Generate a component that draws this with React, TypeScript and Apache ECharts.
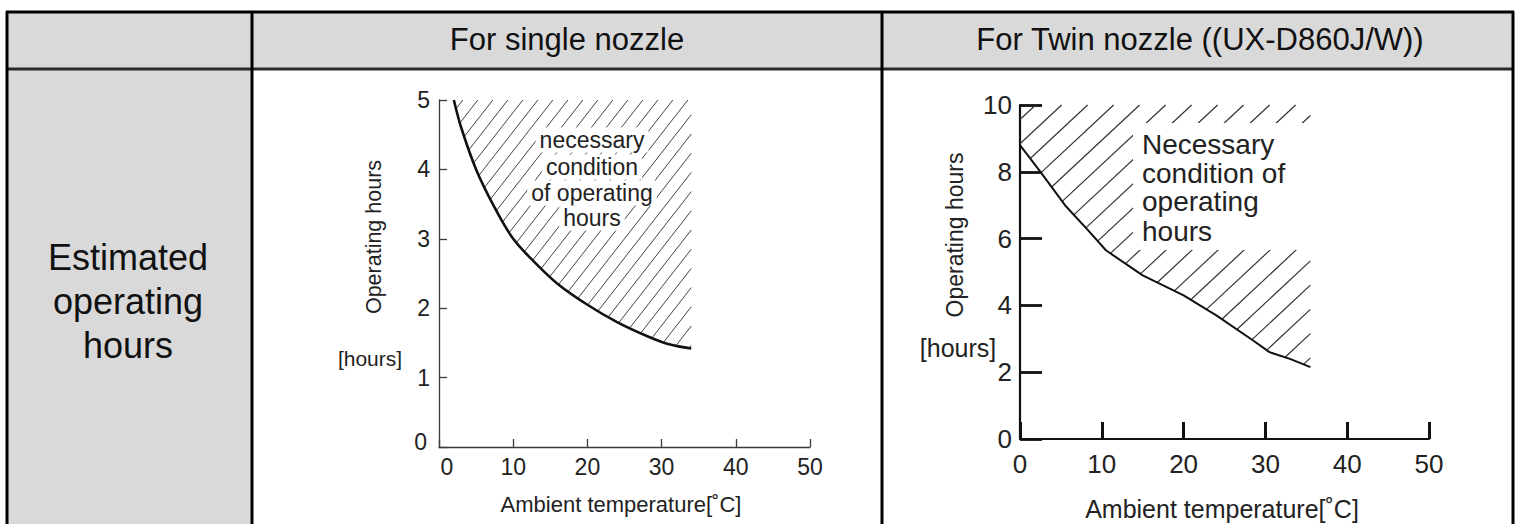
import React, { useEffect, useRef } from "react";
import * as echarts from "echarts";

// ---------- data ----------
const headerLabels = ["For single nozzle", "For Twin nozzle ((UX-D860J/W))"];
const rowLabel = "Estimated\noperating\nhours";
const xAxisName = "Ambient temperature[˚C]";
const yAxisName = "Operating hours";
const yUnit = "[hours]";

const xTickInterval = 10;
const xMax = 50;
const singleYMax = 5;
const singleYInterval = 1;
const twinYMax = 10;
const twinYInterval = 2;

const singleTemps = [2, 3, 5, 7.5, 10, 13, 16, 20, 24, 28, 31, 34];
const singleHours = [5.0, 4.6, 4.0, 3.45, 3.0, 2.65, 2.35, 2.05, 1.8, 1.6, 1.48, 1.42];

const twinTemps = [0, 2.5, 5.5, 8.5, 10.5, 15, 20, 24, 28.5, 30.5, 33, 35.5];
const twinHours = [8.8, 8.0, 7.0, 6.2, 5.65, 4.9, 4.3, 3.7, 2.95, 2.6, 2.4, 2.15];

const singleNote = ["necessary", "condition", "of operating", "hours"];
const twinNote = ["Necessary", "condition of", "operating", "hours"];

// ---------- styling ----------
const FONT = '"Liberation Sans", Arial, Helvetica, sans-serif';
const GREY = "#d9d9d9";
const INK = "#222";

function pairs(xs: number[], ys: number[]) {
  return xs.map((x, i) => [x, ys[i]]);
}

function makeHatch(
  temps: number[],
  hours: number[],
  top: number,
  spacing: number,
  angleDeg: number,
  color: string,
  width: number
) {
  return (_params: any, api: any) => {
    const pts: number[][] = [];
    if (hours[0] < top) pts.push(api.coord([temps[0], top]));
    temps.forEach((t, i) => pts.push(api.coord([t, hours[i]])));
    pts.push(api.coord([temps[temps.length - 1], top]));
    const a = (angleDeg * Math.PI) / 180;
    const nx = Math.sin(a);
    const ny = Math.cos(a);
    const cs = pts.map((p) => p[0] * nx + p[1] * ny);
    const cmin = Math.min(...cs);
    const cmax = Math.max(...cs);
    const step = spacing * nx;
    const children: any[] = [];
    for (let c = cmin + step * 0.6; c < cmax; c += step) {
      const hits: number[][] = [];
      for (let i = 0; i < pts.length; i++) {
        const p1 = pts[i];
        const p2 = pts[(i + 1) % pts.length];
        const f1 = p1[0] * nx + p1[1] * ny - c;
        const f2 = p2[0] * nx + p2[1] * ny - c;
        if (f1 < 0 !== f2 < 0) {
          const s = f1 / (f1 - f2);
          hits.push([p1[0] + s * (p2[0] - p1[0]), p1[1] + s * (p2[1] - p1[1])]);
        }
      }
      hits.sort((u, v) => u[0] - v[0]);
      for (let k = 0; k + 1 < hits.length; k += 2) {
        children.push({
          type: "line",
          shape: { x1: hits[k][0], y1: hits[k][1], x2: hits[k + 1][0], y2: hits[k + 1][1] },
          style: { stroke: color, lineWidth: width },
        });
      }
    }
    return { type: "group", children };
  };
}

function axisCommon(color: string, lineW: number, tickLen: number, tickW: number, fontSize: number, margin: number) {
  return {
    type: "value",
    axisLine: { show: true, onZero: false, lineStyle: { color, width: lineW } },
    axisTick: { show: true, inside: true, length: tickLen, lineStyle: { color, width: tickW } },
    axisLabel: { color: INK, fontSize, margin, fontFamily: FONT },
    splitLine: { show: false },
  };
}

function textEl(text: string, x: number, y: number, fontSize: number, extra: any = {}, styleExtra: any = {}) {
  return {
    type: "text",
    x,
    y,
    z: 20,
    ...extra,
    style: {
      text,
      fontSize,
      fontFamily: FONT,
      fill: INK,
      align: "center",
      verticalAlign: "middle",
      ...styleExtra,
    },
  };
}

function lineEl(x1: number, y1: number, x2: number, y2: number, w: number, color = "#000") {
  return {
    type: "line",
    z: 15,
    shape: { x1, y1, x2, y2 },
    style: { stroke: color, lineWidth: w },
  };
}

export default function App() {
  const ref = useRef<HTMLDivElement>(null);

  useEffect(() => {
    if (!ref.current) return;
    const chart = echarts.init(ref.current, undefined, { renderer: "svg" });

    const graphic: any[] = [
      // table backgrounds
      { type: "rect", z: 0, shape: { x: 7, y: 12, width: 1506, height: 57 }, style: { fill: GREY } },
      { type: "rect", z: 0, shape: { x: 7, y: 69, width: 245, height: 460 }, style: { fill: GREY } },
      // table lines
      lineEl(6, 12, 1514, 12, 3),
      lineEl(6, 69, 1514, 69, 3, "#2a2a2a"),
      lineEl(7, 11, 7, 524, 3),
      lineEl(1513, 11, 1513, 524, 3),
      lineEl(252, 11, 252, 524, 3),
      lineEl(882, 11, 882, 524, 3),
      // header texts
      textEl(headerLabels[0], 567, 39, 31, {}, { fill: "#111" }),
      textEl(headerLabels[1], 1200, 39, 31, {}, { fill: "#111" }),
      // row label
      textEl(rowLabel, 128, 301, 36, {}, { fill: "#111", lineHeight: 44 }),
      // single chart axis names
      textEl(xAxisName, 621, 504, 22),
      textEl(yAxisName, 374, 237, 21.5, { rotation: Math.PI / 2 }),
      textEl(yUnit, 370, 358, 21),
      // twin chart axis names
      textEl(xAxisName, 1222, 509, 25),
      textEl(yAxisName, 955, 235, 23, { rotation: Math.PI / 2 }),
      textEl(yUnit, 958, 348, 25),
      // twin note mask
      { type: "rect", z: 18, shape: { x: 1133, y: 123, width: 180, height: 127 }, style: { fill: "#fff" } },
    ];

    const singleNoteY = [140, 167, 193, 218];
    singleNote.forEach((s, i) => {
      graphic.push(
        textEl(s, 592, singleNoteY[i], 23, {}, { backgroundColor: "#fff", padding: [1, 4] })
      );
    });
    const twinNoteY = [144, 173, 201, 231];
    twinNote.forEach((s, i) => {
      graphic.push(textEl(s, 1142, twinNoteY[i], 28, {}, { align: "left" }));
    });

    const zeroX = (v: number) => (v === 0 ? "{z|0}" : String(v));
    const singleX: any = axisCommon("#3a3a3a", 1.3, 8, 1.3, 23, 8);
    singleX.axisLabel.formatter = zeroX;
    singleX.axisLabel.rich = { z: { fontSize: 23, color: INK, fontFamily: FONT, padding: [0, 0, 0, 16] } };
    const singleY: any = axisCommon("#3a3a3a", 1.3, 8, 1.3, 23, 9);
    singleY.axisLabel.formatter = zeroX;
    singleY.axisLabel.rich = { z: { fontSize: 23, color: INK, fontFamily: FONT, padding: [0, 3, 10, 0] } };
    const twinX = axisCommon("#111", 2.2, 17, 3, 26, 12);
    const twinY = axisCommon("#111", 2.2, 22, 2.8, 26, 8);

    const option: any = {
      animation: false,
      textStyle: { fontFamily: FONT },
      grid: [
        { left: 439, top: 100, width: 371, height: 347 },
        { left: 1020, top: 105, width: 409, height: 334 },
      ],
      xAxis: [
        { ...singleX, gridIndex: 0, min: 0, max: xMax, interval: xTickInterval },
        { ...twinX, gridIndex: 1, min: 0, max: xMax, interval: xTickInterval },
      ],
      yAxis: [
        { ...singleY, gridIndex: 0, min: 0, max: singleYMax, interval: singleYInterval },
        { ...twinY, gridIndex: 1, min: 0, max: twinYMax, interval: twinYInterval },
      ],
      series: [
        {
          type: "custom",
          xAxisIndex: 0,
          yAxisIndex: 0,
          silent: true,
          clip: false,
          z: 1,
          data: [[0, 0]],
          renderItem: makeHatch(singleTemps, singleHours, singleYMax, 15, 52, "#444", 1),
        },
        {
          type: "line",
          xAxisIndex: 0,
          yAxisIndex: 0,
          data: pairs(singleTemps, singleHours),
          smooth: 0.35,
          symbol: "none",
          silent: true,
          lineStyle: { color: "#111", width: 2.6 },
          z: 5,
        },
        {
          type: "custom",
          xAxisIndex: 1,
          yAxisIndex: 1,
          silent: true,
          clip: false,
          z: 1,
          data: [[0, 0]],
          renderItem: makeHatch(twinTemps, twinHours, twinYMax, 26, 43, "#333", 1.2),
        },
        {
          type: "line",
          xAxisIndex: 1,
          yAxisIndex: 1,
          data: pairs(twinTemps, twinHours),
          smooth: false,
          symbol: "none",
          silent: true,
          lineStyle: { color: "#111", width: 2 },
          z: 5,
        },
      ],
      graphic,
    };

    chart.setOption(option);
    return () => chart.dispose();
  }, []);

  return (
    <div
      ref={ref}
      style={{ position: "fixed", left: 0, top: 0, width: 1520, height: 524, background: "#fff" }}
    />
  );
}
